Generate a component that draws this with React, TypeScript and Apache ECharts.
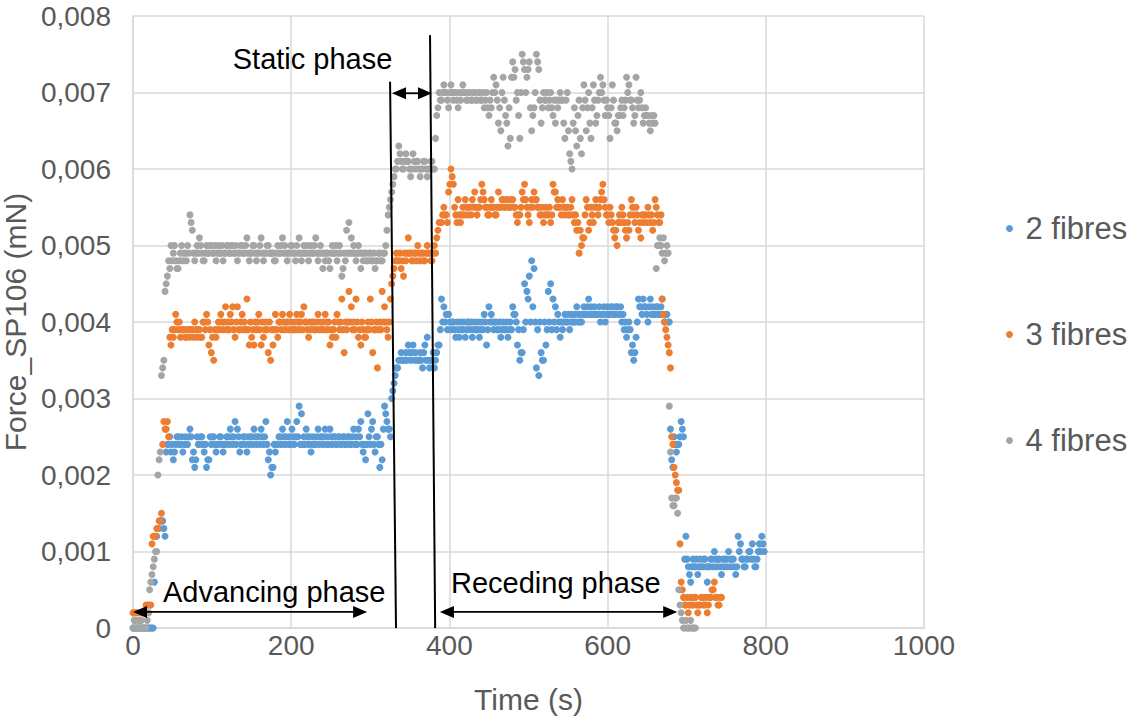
import { useEffect, useRef } from "react";
import * as echarts from "echarts";

// Sampling interval of the recorded series (s)
const TIME_STEP_S = 1.5;
// Force values in units of 0.0001 mN, one value every TIME_STEP_S seconds from t = 0
const force2Fibres = [
  0, 0, 0, 0, 0, 0, 0, 0, 0, 0, 0, 0, 0, 0, 0, 0, 0, 0, 6, 12,
  12, 13, 13, 14, 14, 14, 13, 12, 23, 24, 24, 25, 23, 24, 22, 23, 24, 25, 25, 24,
  24, 25, 23, 24, 25, 24, 24, 25, 26, 25, 22, 23, 21, 22, 25, 24, 24, 25, 25, 24,
  23, 24, 21, 22, 22, 25, 24, 25, 25, 24, 23, 24, 24, 25, 25, 24, 23, 24, 24, 25,
  25, 24, 26, 25, 24, 25, 27, 24, 26, 25, 23, 24, 24, 25, 25, 24, 23, 25, 24, 25,
  25, 24, 26, 25, 24, 25, 25, 24, 26, 25, 24, 25, 27, 24, 22, 23, 20, 21, 21, 24,
  23, 24, 24, 25, 25, 24, 26, 25, 24, 25, 27, 24, 25, 24, 26, 25, 24, 25, 27, 25,
  29, 24, 28, 24, 25, 24, 26, 25, 24, 25, 23, 24, 25, 24, 24, 25, 26, 24, 25, 25,
  24, 25, 26, 24, 25, 24, 26, 25, 24, 25, 25, 24, 24, 25, 25, 24, 24, 25, 25, 24,
  24, 25, 25, 24, 24, 25, 26, 24, 25, 24, 26, 25, 27, 24, 23, 24, 22, 24, 28, 25,
  24, 26, 27, 24, 23, 25, 25, 24, 21, 24, 22, 26, 29, 28, 27, 26, 26, 25, 30, 31,
  32, 33, 34, 34, 35, 35, 36, 35, 35, 35, 36, 35, 37, 36, 35, 36, 37, 35, 36, 35,
  35, 35, 36, 35, 34, 36, 37, 35, 38, 35, 34, 35, 35, 36, 34, 35, 36, 37, 37, 39,
  43, 40, 42, 40, 41, 39, 41, 40, 39, 40, 40, 39, 38, 40, 39, 38, 40, 39, 39, 40,
  38, 39, 40, 40, 39, 40, 38, 39, 40, 39, 39, 40, 38, 39, 40, 39, 41, 40, 37, 39,
  42, 40, 41, 40, 39, 40, 40, 39, 39, 40, 38, 39, 40, 39, 39, 40, 38, 39, 40, 39,
  42, 41, 41, 40, 37, 39, 35, 36, 36, 39, 45, 40, 44, 43, 46, 40, 48, 42, 47, 40,
  34, 39, 33, 40, 36, 35, 35, 40, 37, 39, 44, 40, 45, 39, 43, 40, 42, 39, 41, 40,
  38, 40, 39, 40, 41, 40, 40, 41, 39, 40, 41, 40, 40, 41, 42, 40, 41, 40, 40, 41,
  42, 41, 41, 42, 43, 41, 42, 41, 41, 42, 41, 41, 41, 42, 40, 41, 41, 42, 40, 41,
  42, 41, 41, 42, 42, 41, 41, 42, 42, 41, 41, 42, 40, 41, 39, 40, 38, 39, 40, 39,
  36, 37, 35, 36, 38, 40, 43, 42, 42, 41, 43, 42, 42, 41, 40, 42, 43, 41, 42, 41,
  41, 42, 42, 41, 41, 42, 43, 41, 40, 41, 41, 40, 40, 26, 22, 21, 25, 24, 23, 24,
  24, 25, 27, 26, 25, 9, 12, 9, 8, 7, 6, 8, 9, 8, 8, 9, 7, 8, 9, 8,
  8, 9, 9, 8, 6, 8, 8, 9, 9, 8, 10, 9, 8, 9, 9, 8, 7, 9, 8, 9,
  9, 8, 10, 9, 8, 9, 9, 8, 7, 8, 12, 10, 11, 9, 9, 8, 8, 9, 9, 10,
  10, 9, 11, 9, 8, 8, 9, 10, 11, 10, 12, 11, 10,
];
const force3Fibres = [
  2, 2, 2, 2, 2, 1, 1, 2, 2, 2, 2, 3, 3, 2, 3, 3, 11, 12, 12, 12,
  13, 13, 14, 14, 15, 24, 27, 26, 26, 27, 25, 38, 37, 39, 38, 39, 41, 40, 39, 40,
  38, 39, 39, 39, 38, 38, 39, 39, 38, 39, 39, 38, 40, 39, 38, 39, 39, 38, 38, 40,
  40, 39, 41, 40, 37, 39, 36, 38, 35, 39, 38, 39, 40, 39, 41, 40, 39, 40, 42, 39,
  40, 39, 41, 40, 42, 39, 38, 40, 42, 39, 39, 40, 41, 39, 40, 39, 43, 39, 37, 40,
  38, 39, 37, 40, 39, 40, 41, 39, 37, 40, 38, 39, 40, 39, 36, 40, 35, 39, 37, 39,
  41, 39, 38, 40, 40, 39, 41, 40, 39, 40, 40, 39, 41, 40, 39, 39, 40, 39, 41, 40,
  39, 40, 41, 39, 42, 40, 40, 39, 38, 40, 39, 40, 40, 39, 39, 40, 41, 39, 40, 39,
  40, 39, 41, 40, 39, 40, 37, 39, 38, 39, 40, 38, 41, 40, 39, 40, 43, 39, 36, 40,
  39, 40, 44, 40, 42, 39, 40, 39, 43, 40, 38, 39, 37, 40, 39, 38, 38, 39, 40, 39,
  43, 40, 36, 39, 39, 40, 34, 39, 40, 39, 44, 40, 42, 40, 39, 38, 40, 43, 45, 46,
  47, 48, 49, 48, 48, 49, 47, 48, 46, 49, 48, 49, 51, 49, 49, 48, 48, 49, 49, 48,
  50, 49, 48, 49, 49, 48, 48, 49, 50, 49, 49, 48, 48, 49, 50, 49, 51, 52, 53, 53,
  53, 54, 55, 54, 54, 53, 57, 58, 60, 59, 58, 55, 54, 53, 56, 54, 53, 54, 55, 54,
  56, 55, 54, 55, 55, 54, 56, 55, 57, 55, 54, 55, 55, 56, 58, 57, 56, 55, 55, 54,
  54, 55, 56, 55, 55, 54, 54, 55, 57, 55, 55, 56, 56, 55, 55, 56, 56, 55, 55, 56,
  56, 55, 55, 54, 53, 54, 54, 55, 57, 56, 58, 56, 55, 54, 53, 55, 56, 55, 57, 56,
  56, 55, 55, 54, 54, 55, 53, 54, 55, 54, 54, 55, 53, 54, 58, 57, 57, 55, 56, 55,
  55, 54, 56, 55, 54, 55, 55, 54, 54, 55, 56, 54, 53, 54, 52, 53, 49, 52, 50, 51,
  51, 54, 56, 55, 52, 53, 55, 54, 53, 55, 56, 55, 54, 55, 56, 57, 58, 56, 55, 54,
  54, 53, 55, 54, 53, 52, 51, 52, 50, 53, 54, 53, 55, 54, 53, 52, 51, 53, 52, 54,
  56, 55, 54, 53, 55, 54, 52, 53, 51, 54, 53, 54, 54, 53, 55, 54, 53, 54, 52, 53,
  56, 55, 54, 53, 53, 54, 43, 41, 40, 39, 38, 37, 36, 34, 25, 24, 21, 20, 19, 18,
  18, 11, 6, 5, 4, 3, 3, 4, 2, 3, 4, 3, 3, 4, 4, 3, 2, 3, 3, 4,
  4, 3, 3, 4, 2, 3, 4, 4, 5, 5, 6, 4, 4, 3, 3, 4, 4,
];
const force4Fibres = [
  0, 1, 1, 0, 0, 0, 1, 1, 0, 0, 0, 0, 1, 2, 5, 6, 7, 8, 9, 10,
  10, 20, 22, 23, 33, 34, 35, 44, 45, 46, 48, 47, 50, 48, 49, 50, 48, 47, 47, 48,
  49, 50, 48, 49, 49, 48, 50, 49, 54, 53, 52, 49, 48, 49, 50, 49, 51, 50, 49, 48,
  48, 49, 50, 49, 49, 50, 50, 49, 49, 50, 48, 49, 50, 49, 49, 50, 48, 49, 49, 50,
  50, 49, 49, 50, 50, 49, 49, 50, 48, 49, 49, 50, 50, 49, 49, 50, 51, 49, 48, 49,
  49, 50, 50, 49, 48, 49, 49, 50, 51, 49, 48, 49, 49, 50, 50, 49, 49, 49, 49, 48,
  48, 49, 50, 49, 49, 50, 51, 49, 50, 49, 48, 49, 49, 50, 50, 49, 49, 48, 50, 49,
  51, 49, 48, 49, 50, 49, 49, 50, 48, 49, 50, 49, 49, 50, 51, 49, 48, 49, 50, 49,
  47, 49, 48, 49, 49, 48, 47, 49, 50, 49, 49, 50, 48, 49, 50, 49, 46, 47, 49, 48,
  52, 49, 53, 49, 51, 49, 50, 49, 48, 49, 50, 49, 47, 49, 48, 49, 49, 48, 48, 49,
  49, 48, 48, 49, 47, 48, 48, 49, 49, 48, 48, 49, 49, 50, 52, 54, 55, 56, 57, 58,
  59, 60, 60, 61, 63, 62, 61, 60, 60, 61, 62, 61, 61, 60, 59, 60, 62, 61, 60, 61,
  61, 60, 59, 60, 60, 61, 61, 60, 59, 60, 60, 61, 61, 60, 60, 64, 67, 68, 70, 69,
  69, 70, 71, 70, 70, 69, 68, 70, 71, 70, 69, 70, 70, 69, 68, 70, 69, 70, 71, 70,
  70, 69, 69, 70, 70, 69, 69, 70, 70, 69, 69, 70, 70, 69, 69, 70, 68, 69, 70, 68,
  67, 69, 68, 70, 72, 70, 71, 69, 66, 68, 65, 70, 72, 69, 67, 66, 63, 68, 64, 72,
  74, 72, 73, 69, 70, 67, 64, 70, 75, 74, 73, 70, 72, 73, 74, 68, 65, 67, 68, 70,
  75, 74, 73, 69, 66, 68, 70, 69, 69, 70, 68, 69, 70, 68, 67, 69, 66, 69, 68, 69,
  70, 69, 69, 66, 64, 69, 70, 65, 62, 61, 60, 66, 68, 65, 63, 67, 69, 64, 62, 68,
  71, 69, 65, 68, 70, 66, 64, 68, 71, 69, 66, 67, 69, 70, 72, 70, 71, 69, 67, 69,
  68, 67, 64, 68, 71, 69, 66, 66, 65, 67, 67, 68, 69, 67, 68, 69, 72, 70, 71, 69,
  69, 68, 66, 67, 72, 69, 68, 69, 70, 68, 66, 67, 68, 67, 67, 66, 65, 67, 66, 67,
  66, 47, 50, 50, 51, 50, 49, 51, 48, 49, 50, 49, 29, 23, 17, 16, 16, 17, 17, 15,
  5, 3, 2, 1, 0, 0, 1, 0, 0, 0, 1, 0, 0, 0, 0,
];
const FORCE_UNIT_MN = 0.0001;

const seriesNames = ["2 fibres", "3 fibres", "4 fibres"];
const seriesColors = ["#5B9BD5", "#ED7D31", "#A5A5A5"];
const seriesLevels = [force2Fibres, force3Fibres, force4Fibres];

// Axis ranges / ticks
const xMin = 0, xMax = 1000, xStep = 200;
const yMin = 0, yMax = 0.008, yStep = 0.001;

// Phase boundary lines (data coords: [time, force])
const phaseLines = [
  [[325, 0.00714], [332.5, 0]],
  [[375.5, 0.00775], [382, 0]],
];
// Double arrows, tip to tip (data coords)
const phaseArrows = [
  [[327.4, 0.00699], [378, 0.00699]],
  [[0, 0.00021], [296, 0.00021]],
  [[388, 0.00021], [688, 0.00021]],
];
// Phase labels, anchored at their centre (data coords)
const phaseTexts = [
  { text: "Static phase", at: [227, 0.00744] },
  { text: "Advancing phase", at: [178.5, 0.00047] },
  { text: "Receding phase", at: [534.5, 0.00059] },
];

const FONT = '"Liberation Sans", Arial, Helvetica, sans-serif';

export default function App() {
  const ref = useRef<HTMLDivElement>(null);
  useEffect(() => {
    if (!ref.current) return;
    const chart = echarts.init(ref.current, undefined, { renderer: "svg" });
    const grid = "#d9d9d9";
    const series: any[] = seriesLevels.map((levels, k) => ({
      name: seriesNames[k],
      type: "scatter",
      symbol: "circle",
      symbolSize: 7,
      itemStyle: { color: seriesColors[k], opacity: 1 },
      emphasis: { disabled: true },
      data: levels.map((v, i) => [+(i * TIME_STEP_S).toFixed(1), +(v * FORCE_UNIT_MN).toFixed(5)]),
      z: 2 + k,
    }));
    chart.setOption({
      animation: false,
      backgroundColor: "#ffffff",
      textStyle: { fontFamily: FONT },
      grid: { left: 133, right: 205, top: 16, bottom: 90, containLabel: false, outerBoundsMode: "none" },
      legend: {
        data: seriesNames,
        orient: "vertical",
        left: 1001,
        top: 208,
        itemGap: 75,
        itemWidth: 22,
        itemHeight: 7,
        icon: "circle",
        selectedMode: false,
        textStyle: { fontSize: 31, color: "#595959", fontFamily: FONT, lineHeight: 31 },
      },
      xAxis: {
        type: "value",
        min: xMin,
        max: xMax,
        interval: xStep,
        name: "Time (s)",
        nameLocation: "middle",
        nameGap: 56,
        nameTextStyle: { fontSize: 30, color: "#595959", fontFamily: FONT },
        axisLine: { show: true, lineStyle: { color: grid, width: 1.5 } },
        axisTick: { show: false },
        axisLabel: {
          fontSize: 28,
          color: "#595959",
          margin: 3,
          fontFamily: FONT,
          formatter: (v: number) => String(v),
        },
        splitLine: { show: true, lineStyle: { color: grid, width: 1.5 } },
      },
      yAxis: {
        type: "value",
        min: yMin,
        max: yMax,
        interval: yStep,
        name: "Force_SP106 (mN)",
        nameLocation: "middle",
        nameRotate: 90,
        nameGap: 92,
        nameTextStyle: { fontSize: 30, color: "#595959", fontFamily: FONT },
        axisLine: { show: true, lineStyle: { color: grid, width: 1.5 } },
        axisTick: { show: false },
        axisLabel: {
          fontSize: 28,
          color: "#595959",
          margin: 22,
          fontFamily: FONT,
          formatter: (v: number) => (v === 0 ? "0" : v.toFixed(3).replace(".", ",")),
        },
        splitLine: { show: true, lineStyle: { color: grid, width: 1.5 } },
      },
      series,
    });

    // Annotations positioned through the chart's own axes
    const px = (p: number[]) => chart.convertToPixel({ gridIndex: 0 }, p) as number[];
    const graphics: any[] = [];
    phaseLines.forEach(([a, b]) => {
      const p1 = px(a), p2 = px(b);
      graphics.push({
        type: "line",
        silent: true,
        z: 20,
        shape: { x1: p1[0], y1: p1[1], x2: p2[0], y2: p2[1] },
        style: { stroke: "#000", lineWidth: 2 },
      });
    });
    const HEAD_L = 14, HEAD_W = 6;
    phaseArrows.forEach(([a, b]) => {
      const p1 = px(a), p2 = px(b);
      const dx = p2[0] - p1[0], dy = p2[1] - p1[1];
      const len = Math.hypot(dx, dy) || 1;
      const ux = dx / len, uy = dy / len;
      const nx = -uy, ny = ux;
      graphics.push({
        type: "line",
        silent: true,
        z: 20,
        shape: {
          x1: p1[0] + ux * HEAD_L * 0.8,
          y1: p1[1] + uy * HEAD_L * 0.8,
          x2: p2[0] - ux * HEAD_L * 0.8,
          y2: p2[1] - uy * HEAD_L * 0.8,
        },
        style: { stroke: "#000", lineWidth: 1.8 },
      });
      const head = (tip: number[], dir: number) => ({
        type: "polygon",
        silent: true,
        z: 21,
        shape: {
          points: [
            [tip[0], tip[1]],
            [tip[0] + dir * ux * HEAD_L + nx * HEAD_W, tip[1] + dir * uy * HEAD_L + ny * HEAD_W],
            [tip[0] + dir * ux * HEAD_L - nx * HEAD_W, tip[1] + dir * uy * HEAD_L - ny * HEAD_W],
          ],
        },
        style: { fill: "#000" },
      });
      graphics.push(head(p1, 1), head(p2, -1));
    });
    phaseTexts.forEach((t) => {
      const p = px(t.at);
      graphics.push({
        type: "text",
        x: p[0],
        y: p[1],
        silent: true,
        z: 22,
        style: {
          text: t.text,
          fill: "#000",
          font: `29px ${FONT}`,
          align: "center",
          verticalAlign: "middle",
          textAlign: "center",
          textVerticalAlign: "middle",
        },
      });
    });
    chart.setOption({ graphic: graphics });
    return () => chart.dispose();
  }, []);
  return (
    <div
      ref={ref}
      style={{ position: "fixed", left: 0, top: 0, width: 1129, height: 718, background: "#fff" }}
    />
  );
}
